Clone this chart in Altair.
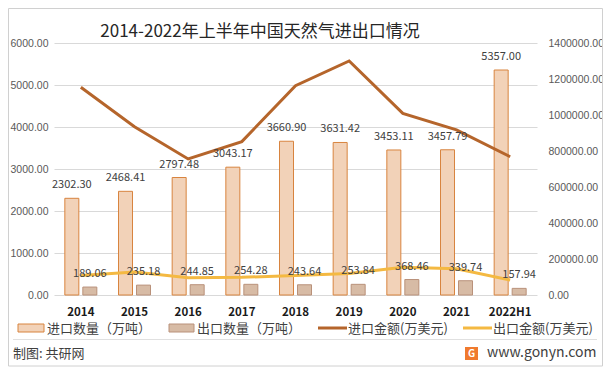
import altair as alt
import pandas as pd

years = ["2014", "2015", "2016", "2017", "2018", "2019", "2020", "2021", "2022H1"]
imp_q = [2302.30, 2468.41, 2797.48, 3043.17, 3660.90, 3631.42, 3453.11, 3457.79, 5357.00]
exp_q = [189.06, 235.18, 244.85, 254.28, 243.64, 253.84, 368.46, 339.74, 157.94]
imp_v = [1154000, 935000, 756000, 852000, 1163000, 1300000, 1009000, 917000, 768000]
exp_v = [109000, 128000, 96000, 98000, 109000, 120000, 154000, 146000, 83000]

left_ticks = [0, 1000, 2000, 3000, 4000, 5000, 6000]
right_ticks = [0, 200000, 400000, 600000, 800000, 1000000, 1200000, 1400000]

title_text = "2014-2022年上半年中国天然气进出口情况"
legend_labels = ["进口数量（万吨）", "出口数量（万吨）", "进口金额(万美元)", "出口金额(万美元)"]
footer_left = "制图: 共研网"
footer_right = "www.gonyn.com"

df = pd.DataFrame({"year": years, "imp_q": imp_q, "exp_q": exp_q, "imp_v": imp_v, "exp_v": exp_v})

FONT = "Noto Sans CJK SC"
NUMFONT = "Liberation Sans"
W, H = 483, 252
C_IMP_FILL, C_IMP_STROKE = "#F2D2B8", "#D8843F"
C_EXP_FILL, C_EXP_STROKE = "#D7BBA5", "#B9917A"
C_IMP_LINE, C_EXP_LINE = "#B5652B", "#F4B942"
LBL = "#404040"

x_enc = alt.X("year:N", sort=years, title=None,
              scale=alt.Scale(paddingInner=0, paddingOuter=0),
              axis=alt.Axis(labelAngle=0, labelFontWeight="bold", labelFontSize=11.5,
                            labelColor="#1a1a1a", labelFont=FONT, ticks=False, domain=False,
                            labelPadding=11))

yl_scale = alt.Scale(domain=[0, 6000])
yr_scale = alt.Scale(domain=[0, 1400000])

base = alt.Chart(df)

imp_bar = base.mark_bar(size=14, xOffset=-9, fill=C_IMP_FILL, stroke=C_IMP_STROKE, strokeWidth=1).encode(
    x=x_enc,
    y=alt.Y("imp_q:Q", scale=yl_scale, title=None,
            axis=alt.Axis(orient="left", values=left_ticks, format=".2f", grid=True, gridColor="#d9d9d9",
                          domain=False, ticks=False, labelFontSize=10.5, labelColor="#595959",
                          labelFont=NUMFONT, labelPadding=6)))
exp_bar = base.mark_bar(size=14, xOffset=9, fill=C_EXP_FILL, stroke=C_EXP_STROKE, strokeWidth=1).encode(
    x=x_enc, y=alt.Y("exp_q:Q", scale=yl_scale, axis=None))
imp_lbl = base.mark_text(dx=-9, dy=-13, baseline="middle", fontSize=11, color=LBL, font=FONT).encode(
    x=x_enc, y=alt.Y("imp_q:Q", scale=yl_scale, axis=None), text=alt.Text("imp_q:Q", format=".2f"))
exp_lbl = base.mark_text(dx=9, dy=-13, baseline="middle", fontSize=11, color=LBL, font=FONT).encode(
    x=x_enc, y=alt.Y("exp_q:Q", scale=yl_scale, axis=None), text=alt.Text("exp_q:Q", format=".2f"))

imp_line = base.mark_line(color=C_IMP_LINE, strokeWidth=3).encode(
    x=x_enc,
    y=alt.Y("imp_v:Q", scale=yr_scale, title=None,
            axis=alt.Axis(orient="right", values=right_ticks, format=".2f", grid=False,
                          domain=False, ticks=False, labelFontSize=10.5, labelColor="#595959",
                          labelFont=NUMFONT, labelPadding=11)))
exp_line = base.mark_line(color=C_EXP_LINE, strokeWidth=3).encode(
    x=x_enc, y=alt.Y("exp_v:Q", scale=yr_scale, axis=None))

# page coords -> plot coords
X0, Y0 = 54, 43
def px(v):
    return v - X0
def py(v):
    return v - Y0

one = alt.Data(values=[{"a": 1}])

def text_at(t, x, y, size, color=LBL, align="left", weight="normal", font=FONT):
    return alt.Chart(one).mark_text(text=t, align=align, baseline="middle", fontSize=size,
                                    color=color, font=font, fontWeight=weight).encode(
        x=alt.value(px(x)), y=alt.value(py(y)))

def rect_at(x1, x2, y1, y2, fill, stroke, sw=1):
    return alt.Chart(one).mark_rect(fill=fill, stroke=stroke, strokeWidth=sw).encode(
        x=alt.value(px(x1)), x2=alt.value(px(x2)), y=alt.value(py(y1)), y2=alt.value(py(y2)))

def hline(x1, x2, y, color, sw):
    return alt.Chart(one).mark_rule(color=color, strokeWidth=sw).encode(
        x=alt.value(px(x1)), x2=alt.value(px(x2)), y=alt.value(py(y)))

border = alt.Chart(one).mark_rect(fill=None, stroke="#d0d0d0", strokeWidth=1).encode(
    x=alt.value(px(8.5)), x2=alt.value(px(602.5)), y=alt.value(py(8.5)), y2=alt.value(py(366)))

deco = [
    border,
    text_at(title_text, 260, 32, 17, color="#262626", align="center"),
    rect_at(18, 44, 324, 332, C_IMP_FILL, C_IMP_STROKE),
    text_at(legend_labels[0], 47, 328.5, 13),
    rect_at(169, 194, 324, 332, C_EXP_FILL, C_EXP_STROKE),
    text_at(legend_labels[1], 197, 328.5, 13),
    hline(318, 347, 328, C_IMP_LINE, 3),
    text_at(legend_labels[2], 348, 328.5, 13),
    hline(463, 492, 328, C_EXP_LINE, 3),
    text_at(legend_labels[3], 493, 328.5, 13),
    hline(13, 597, 339.5, "#e0e0e0", 1),
    text_at(footer_left, 13, 354, 13),
    rect_at(465, 478, 347, 360, "#F07A2E", "#F07A2E", 0),
    text_at("G", 471.5, 353.5, 10, color="#ffffff", align="center", weight="bold"),
    text_at(footer_right, 487, 353, 14, color="#404040"),
]

chart = alt.layer(imp_bar, exp_bar, imp_line, exp_line, imp_lbl, exp_lbl, *deco).resolve_scale(
    y="independent"
).properties(
    width=W, height=H,
    autosize=alt.AutoSizeParams(type="none"),
    padding={"left": 46, "top": 35, "right": 66, "bottom": 73},
    background="white",
).configure_view(stroke=None)

chart.save("out.html", embed_options={"renderer": "svg", "actions": False})
